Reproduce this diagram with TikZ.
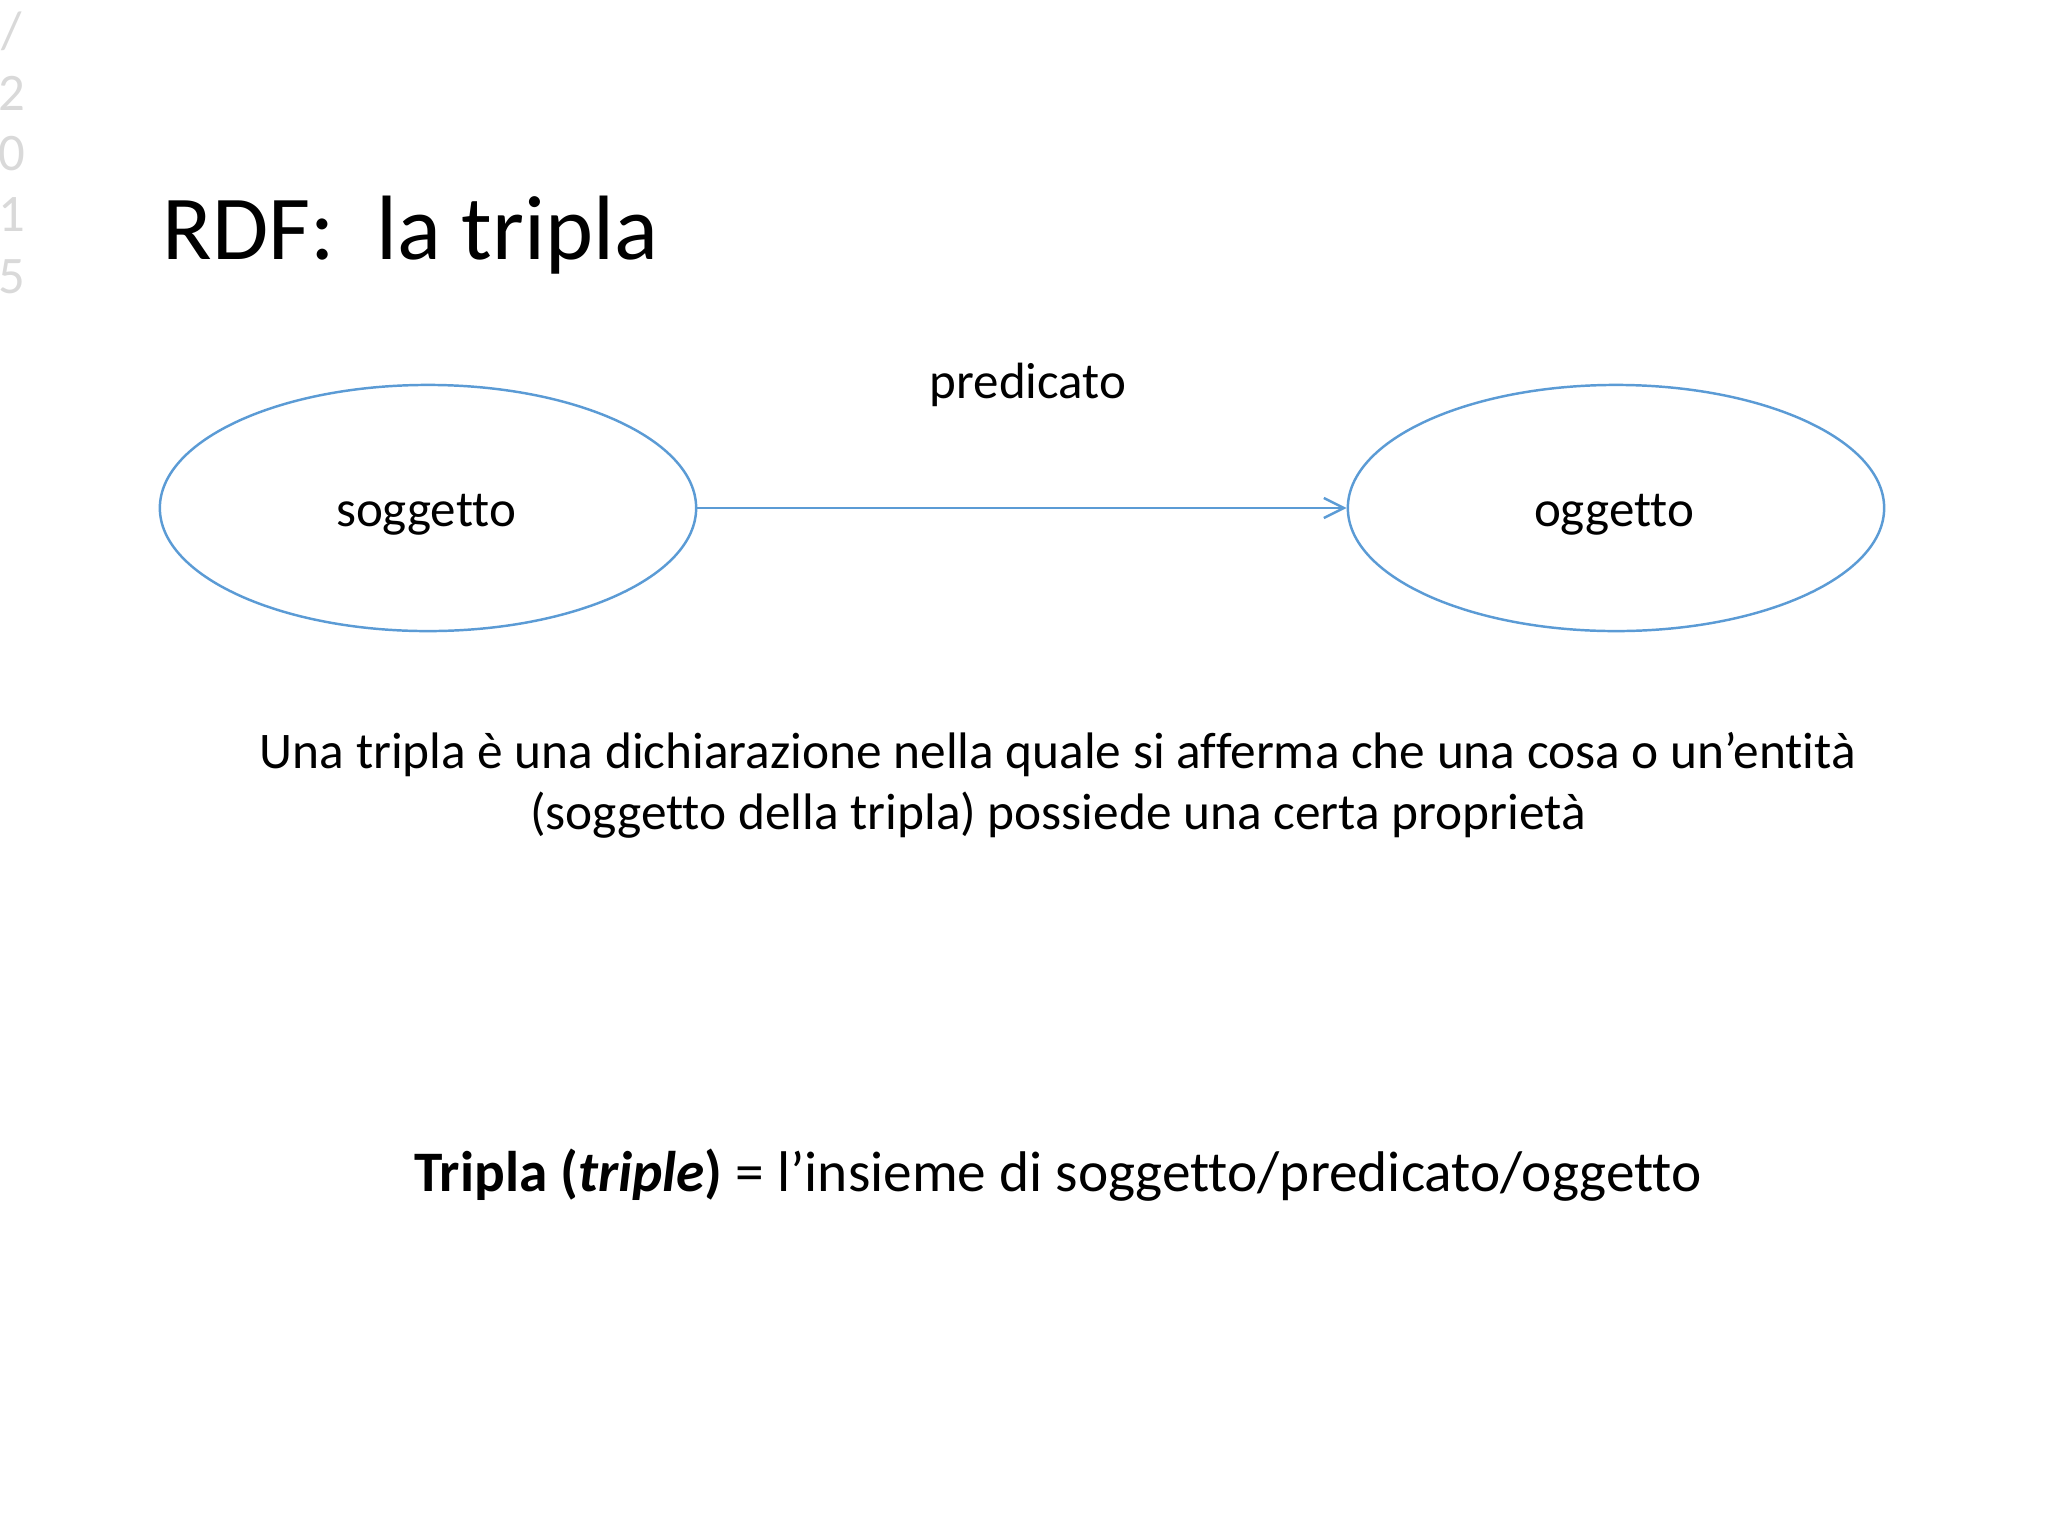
\documentclass[tikz,border=0pt]{standalone}
\usepackage{fontspec}
\setmainfont{Carlito}[Ligatures=NoCommon]
\usetikzlibrary{shapes.geometric,arrows.meta}
\definecolor{entblue}{HTML}{5B9BD5}
\definecolor{yeargray}{HTML}{D9D9D9}
\tikzset{
  entity/.style={ellipse, draw=entblue, line width=0.7pt, minimum width=5.36cm, minimum height=2.46cm, inner sep=0pt},
  txt/.style={anchor=base, inner sep=0pt}
}
\begin{document}
\begin{tikzpicture}[x=0.01cm, y=-0.01cm]
        \useasboundingbox (0,0) rectangle (2048,1536);
        % year in the margin
        \foreach \c/\y [count=\i] in {{/}/48, 2/110, 0/170, 1/231, 5/293}
            \node[txt, text=yeargray, font=\fontsize{15}{18}\selectfont] (yr\i) at (12,\y) {\c};
        \node[txt, anchor=base west, font=\fontsize{26}{31}\selectfont] (title) at (162,259) {RDF:\ \ la tripla};
        % the triple
        \node[entity] (sogg) at (428,508) {};
        \node[entity] (ogg) at (1616,508) {};
        \node[txt, font=\fontsize{14.5}{17}\selectfont] (sl) at (426,526) {soggetto};
        \node[txt, font=\fontsize{14.5}{17}\selectfont] (ol) at (1614,526) {oggetto};
        \node[txt, font=\fontsize{14.5}{17}\selectfont] (pred) at (1028,398) {predicato};
        \draw[entblue, line width=0.7pt, -{Straight Barb[length=5.7pt, width=5.7pt]}] (sogg.east) -- (ogg.west);
        % explanation
        \node[txt, font=\fontsize{14.6}{17}\selectfont] (def1) at (1058,768) {Una tripla è una dichiarazione nella quale si afferma che una cosa o un’entità};
        \node[txt, font=\fontsize{14.6}{17}\selectfont] (def2) at (1058,829) {(soggetto della tripla) possiede una certa proprietà};
        \node[txt, font=\fontsize{16.3}{19}\selectfont] (tripla) at (1058,1191) {\textbf{Tripla (\textit{triple})} = l’insieme di soggetto/predicato/oggetto};
\end{tikzpicture}
\end{document}
